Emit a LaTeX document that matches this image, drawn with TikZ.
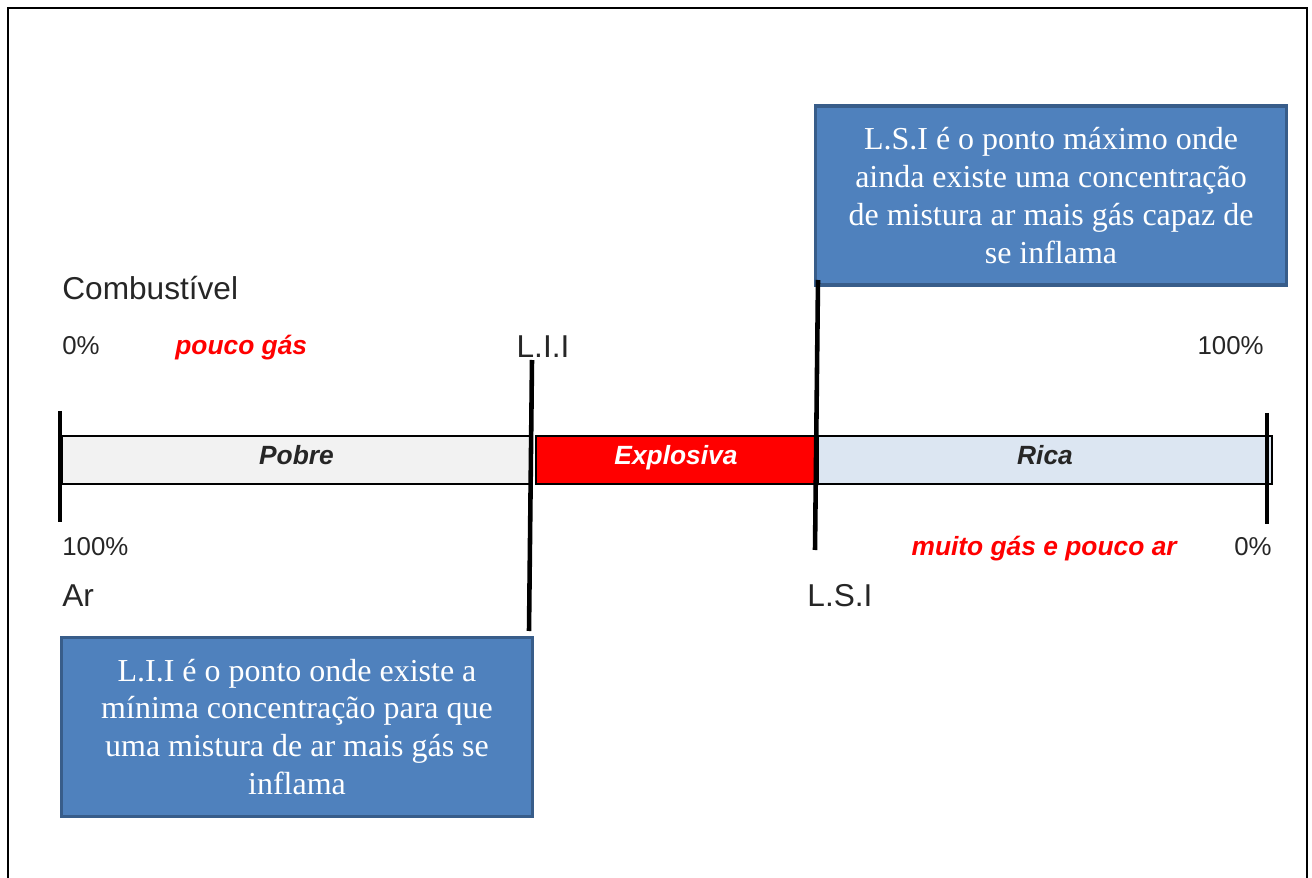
\documentclass[tikz,border=0pt]{standalone}
\usepackage{fontspec}
\setmainfont{Liberation Sans}
\newfontfamily\boxfont{Liberation Serif}
\usetikzlibrary{positioning, calc}
\definecolor{pobrefill}{HTML}{F2F2F2}
\definecolor{ricafill}{HTML}{DCE6F2}
\definecolor{explred}{HTML}{FF0000}
\definecolor{boxfill}{HTML}{4F81BD}
\definecolor{boxline}{HTML}{385D8A}
\definecolor{labeltext}{HTML}{262626}
\tikzset{
  frame/.style = {line width = 1.2pt},
  segment/.style = {draw, line width = 1pt},
  seglabel/.style = {inner sep = 0pt, anchor = base,
    font = \fontsize{15}{18}\selectfont\bfseries\itshape},
  scale label/.style = {inner sep = 0pt, text = labeltext, font = \fontsize{14.7}{17}\selectfont},
  axis label/.style = {inner sep = 0pt, text = labeltext, font = \fontsize{18}{21}\selectfont},
  gas label/.style = {inner sep = 0pt, text = explred,
    font = \fontsize{15}{18}\selectfont\bfseries\itshape},
  limit/.style = {line width = 2.6pt},
  tick/.style = {line width = 2.8pt},
  infobox/.style = {draw = boxline, fill = boxfill, line width = 2pt, text = white,
    align = center, minimum width = 9.42cm, minimum height = 3.58cm,
    font = \boxfont\fontsize{18.2}{21.6}\selectfont}
}

\begin{document}
\begin{tikzpicture}[x = 0.02cm, y = -0.02cm]   % one unit = one pixel of the drawing
\useasboundingbox (0,0) rectangle (1312,878);

%% Frame (open at the bottom)
\draw [frame] (8,878) -- (8,8) -- (1307,8) -- (1307,878);

%% Mixture bar
\foreach \seg/\xa/\xb/\fillc/\textc [count = \i] in
    {Pobre/62/531/pobrefill/labeltext, Explosiva/536/816/explred/white, Rica/818/1272/ricafill/labeltext} {
  \draw [segment, fill = \fillc] (\xa,436) rectangle (\xb,484);
  \node [seglabel, text = \textc] (seg\i) at ({(\xa+\xb)/2},464) {\seg};
}

%% Ends of the bar
\coordinate (tick1 top) at (60,411);
\coordinate (tick1 bot) at (60,522);
\coordinate (tick2 top) at (1267,413);
\coordinate (tick2 bot) at (1267,524);
\draw [tick] (tick1 top) -- (tick1 bot);
\draw [tick] (tick2 top) -- (tick2 bot);

%% Scale above
\node [axis label, anchor = base west] (comb) at (62,299.5) {Combustível};
\node [scale label, anchor = base west] (comb0) at (62,355) {0\%};
\node [gas label, anchor = base west] (pouco) at (175,355) {pouco gás};
\node [axis label, anchor = base] (lii) at (543,358) {L.I.I};
\node [scale label, anchor = base east] (comb100) at (1264,355) {100\%};

%% Scale below
\node [scale label, anchor = base west] (ar100) at (62,555.5) {100\%};
\node [gas label, anchor = base east] (muito) at (1177,555.5) {muito gás e pouco ar};
\node [scale label, anchor = base east] (ar0) at (1272,555.5) {0\%};
\node [axis label, anchor = base west] (ar) at (62,606) {Ar};
\node [axis label, anchor = base] (lsi) at (840,606) {L.S.I};

%% Notes
\node [infobox] (lsibox) at (1051,195.5)
  {L.S.I é o ponto máximo onde\\ ainda existe uma concentração\\ de mistura ar mais gás capaz de\\ se inflama};
\node [infobox] (liibox) at (297,727)
  {L.I.I é o ponto onde existe a\\ mínima concentração para que\\ uma mistura de ar mais gás se\\ inflama};

%% Limits
\coordinate (lii top) at (532,360);
\coordinate (lii bot) at (529,631);
\coordinate (lsi top) at (818,280);
\coordinate (lsi bot) at (815,550);
\draw [limit] (lii top) -- (lii bot);
\draw [limit] (lsi top) -- (lsi bot);

\end{tikzpicture}
\end{document}
